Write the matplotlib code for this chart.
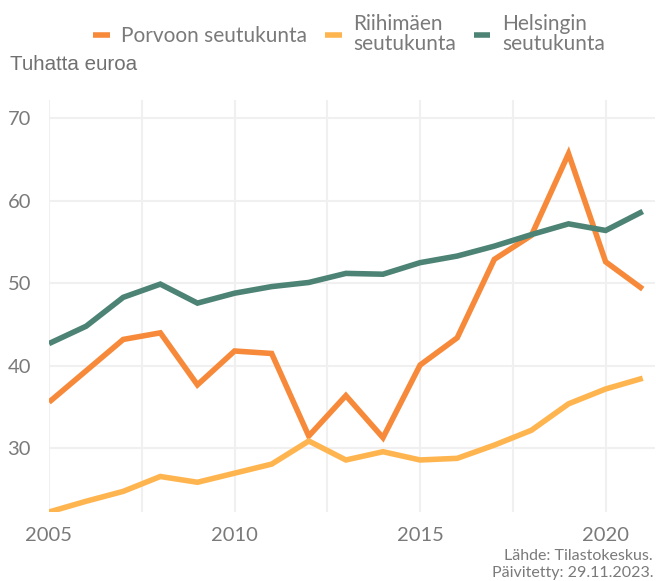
import numpy as np
import matplotlib.pyplot as plt

years = list(range(2005, 2022))
porvoo = [35.6, 39.4, 43.2, 44.0, 37.7, 41.8, 41.5, 31.5, 36.4, 31.3, 40.1,
          43.4, 52.9, 55.8, 65.7, 52.6, 49.3]
riihimaki = [22.3, 23.6, 24.8, 26.6, 25.9, 27.0, 28.1, 30.9, 28.6, 29.6, 28.6,
             28.8, 30.4, 32.2, 35.4, 37.2, 38.5]
helsinki = [42.7, 44.8, 48.3, 49.9, 47.6, 48.8, 49.6, 50.1, 51.2, 51.1, 52.5,
            53.3, 54.5, 55.9, 57.2, 56.4, 58.7]

labels = ['Porvoon seutukunta', 'Riihimäen\nseutukunta', 'Helsingin\nseutukunta']
colors = ['#F78A3A', '#FFB54F', '#4D8374']
grey = '#7a7a7a'

plt.rcParams['font.family'] = ['Lato', 'DejaVu Sans']

fig = plt.figure(figsize=(6.56, 5.81), dpi=100)
ax = fig.add_axes([49/656, 1-512/581, (655-49)/656, (512-100)/581])

for vals, lab, c in zip([porvoo, riihimaki, helsinki], labels, colors):
    ax.plot(years, vals, color=c, lw=4, label=lab, solid_capstyle='butt',
            solid_joinstyle='miter')

ax.set_xlim(2005, 2021.33)
ax.set_ylim(22.3, 72.2)
ax.set_xticks([2005, 2010, 2015, 2020])
ax.set_xticks([2007.5, 2012.5, 2017.5], minor=True)
ax.set_yticks([30, 40, 50, 60, 70])
ax.grid(True, which='both', color='#f0f0f0', lw=1.5)
ax.set_axisbelow(True)
for s in ax.spines.values():
    s.set_visible(False)
ax.tick_params(which='both', length=0, labelsize=14.5, labelcolor=grey)
ax.tick_params(axis='x', pad=11)
ax.tick_params(axis='y', pad=13)

fig.text(10/656, 1-64/581, 'Tuhatta euroa', fontsize=14.8, color='#707070',
         family='Liberation Sans', va='center')

leg = fig.legend(loc='center', bbox_to_anchor=(349/656, 1-34/581), ncol=3,
                 frameon=False, fontsize=15, handlelength=0.8,
                 handletextpad=0.55, columnspacing=0.85)
for t in leg.get_texts():
    t.set_color(grey)
    t.set_linespacing(0.95)

fig.text(653/656, 1-556/581, 'Lähde: Tilastokeskus.', ha='right', va='center',
         fontsize=11.5, color=grey)
fig.text(653/656, 1-573/581, 'Päivitetty: 29.11.2023.', ha='right', va='center',
         fontsize=11.5, color=grey)

fig.savefig('out.png', dpi=100)
